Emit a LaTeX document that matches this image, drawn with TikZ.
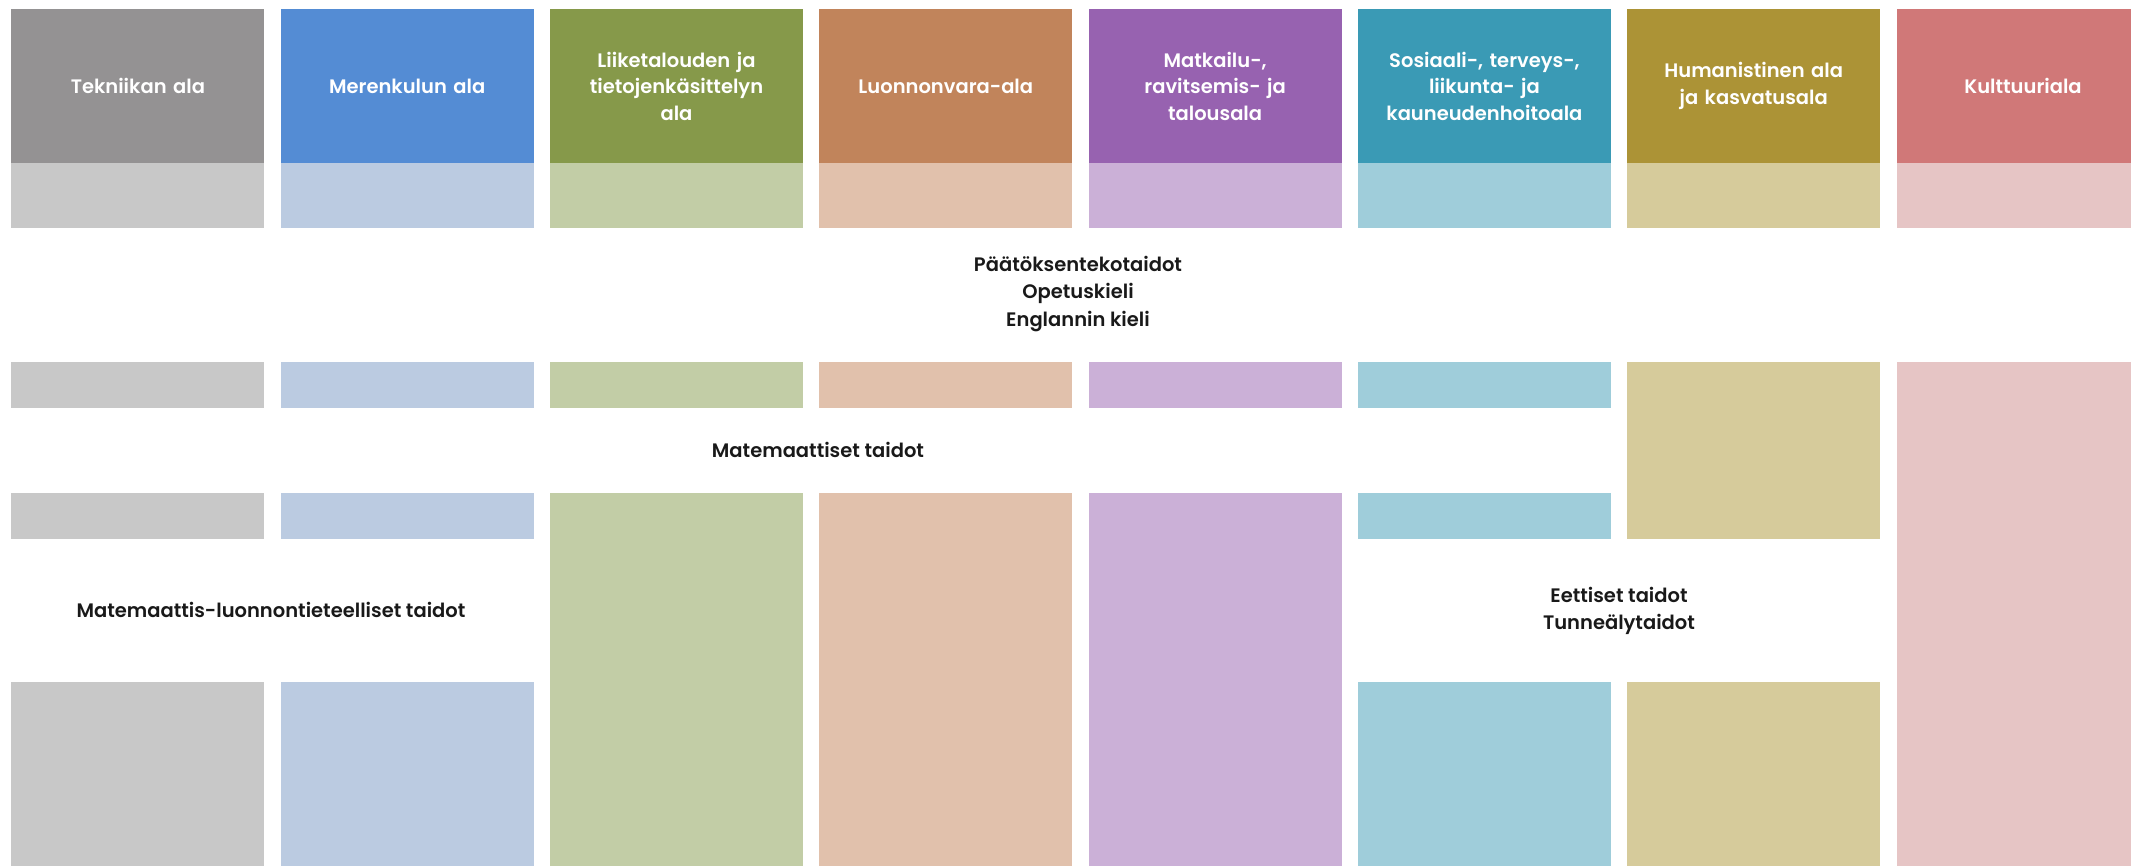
\documentclass[tikz,border=0pt]{standalone}
\usepackage{fontspec}
\setmainfont{Poppins}[BoldFont={Poppins SemiBold}]
\newfontfamily\medfont{Poppins SemiBold}
\definecolor{d1}{RGB}{148,146,147}\definecolor{l1}{RGB}{200,200,200}
\definecolor{d2}{RGB}{84,140,212}\definecolor{l2}{RGB}{187,203,225}
\definecolor{d3}{RGB}{134,153,74}\definecolor{l3}{RGB}{194,205,166}
\definecolor{d4}{RGB}{193,132,91}\definecolor{l4}{RGB}{225,193,172}
\definecolor{d5}{RGB}{151,98,176}\definecolor{l5}{RGB}{203,176,215}
\definecolor{d6}{RGB}{58,154,181}\definecolor{l6}{RGB}{159,205,218}
\definecolor{d7}{RGB}{172,147,54}\definecolor{l7}{RGB}{214,203,155}
\definecolor{d8}{RGB}{208,120,120}\definecolor{l8}{RGB}{230,197,197}
\begin{document}
\begin{tikzpicture}[x=1pt,y=-1pt,
  box/.style={inner sep=0pt,outer sep=0pt,anchor=north west,minimum width=253pt},
  head/.style={box,minimum height=154pt,text=white,align=center,text width=248pt,
    font=\bfseries\fontsize{19.5}{26.5}\selectfont},
  band/.style={box,minimum height=65pt},
  bar/.style={box,minimum height=46pt},
  lbl/.style={inner sep=0pt,align=center,text=black!90,font=\medfont\fontsize{19.5}{27.5}\selectfont}]
\useasboundingbox (0,0) rectangle (2131,865);
\clip (0,0) rectangle (2131,865);
% headers
\node[head,fill=d1] (h1) at (11.4,9) {Tekniikan ala};
\node[head,fill=d2] (h2) at (280.7,9) {Merenkulun ala};
\node[head,fill=d3] (h3) at (550.0,9) {Liiketalouden ja\\tietojenkäsittelyn\\ala};
\node[head,fill=d4] (h4) at (819.3,9) {Luonnonvara-ala};
\node[head,fill=d5] (h5) at (1088.6,9) {Matkailu-,\\ravitsemis- ja\\talousala};
\node[head,fill=d6] (h6) at (1357.9,9) {Sosiaali-, terveys-,\\liikunta- ja\\kauneudenhoitoala};
\node[head,fill=d7] (h7) at (1627.2,9) {Humanistinen ala\\ja kasvatusala};
\node[head,fill=d8] (h8) at (1896.5,9) {Kulttuuriala};
% light bands
\node[band,fill=l1] (b1) at (11.4,163) {};
\node[band,fill=l2] (b2) at (280.7,163) {};
\node[band,fill=l3] (b3) at (550.0,163) {};
\node[band,fill=l4] (b4) at (819.3,163) {};
\node[band,fill=l5] (b5) at (1088.6,163) {};
\node[band,fill=l6] (b6) at (1357.9,163) {};
\node[band,fill=l7] (b7) at (1627.2,163) {};
\node[band,fill=l8] (b8) at (1896.5,163) {};
% row 2
\node[bar,fill=l1] (r1) at (11.4,362) {};
\node[bar,fill=l2] (r2) at (280.7,362) {};
\node[bar,fill=l3] (r3) at (550.0,362) {};
\node[bar,fill=l4] (r4) at (819.3,362) {};
\node[bar,fill=l5] (r5) at (1088.6,362) {};
\node[bar,fill=l6] (r6) at (1357.9,362) {};
\node[box,minimum height=177pt,fill=l7] (r7) at (1627.2,362) {};
\node[box,minimum height=510pt,fill=l8] (r8) at (1896.5,362) {};
% row 3
\node[bar,fill=l1] (s1) at (11.4,493) {};
\node[bar,fill=l2] (s2) at (280.7,493) {};
\node[box,minimum height=380pt,fill=l3] (s3) at (550.0,493) {};
\node[box,minimum height=380pt,fill=l4] (s4) at (819.3,493) {};
\node[box,minimum height=380pt,fill=l5] (s5) at (1088.6,493) {};
\node[bar,fill=l6] (s6) at (1357.9,493) {};
% bottom
\node[box,minimum height=190pt,fill=l1] (t1) at (11.4,682) {};
\node[box,minimum height=190pt,fill=l2] (t2) at (280.7,682) {};
\node[box,minimum height=190pt,fill=l6] (t6) at (1357.9,682) {};
\node[box,minimum height=190pt,fill=l7] (t7) at (1627.2,682) {};
% labels
\node[lbl] (p) at (1078,294) {Päätöksentekotaidot\\Opetuskieli\\Englannin kieli};
\node[lbl] (m) at (818,450) {Matemaattiset taidot};
\node[lbl] (ml) at (271,610) {Matemaattis-luonnontieteelliset taidot};
\node[lbl] (e) at (1619,611) {Eettiset taidot\\Tunneälytaidot};
\end{tikzpicture}
\end{document}
